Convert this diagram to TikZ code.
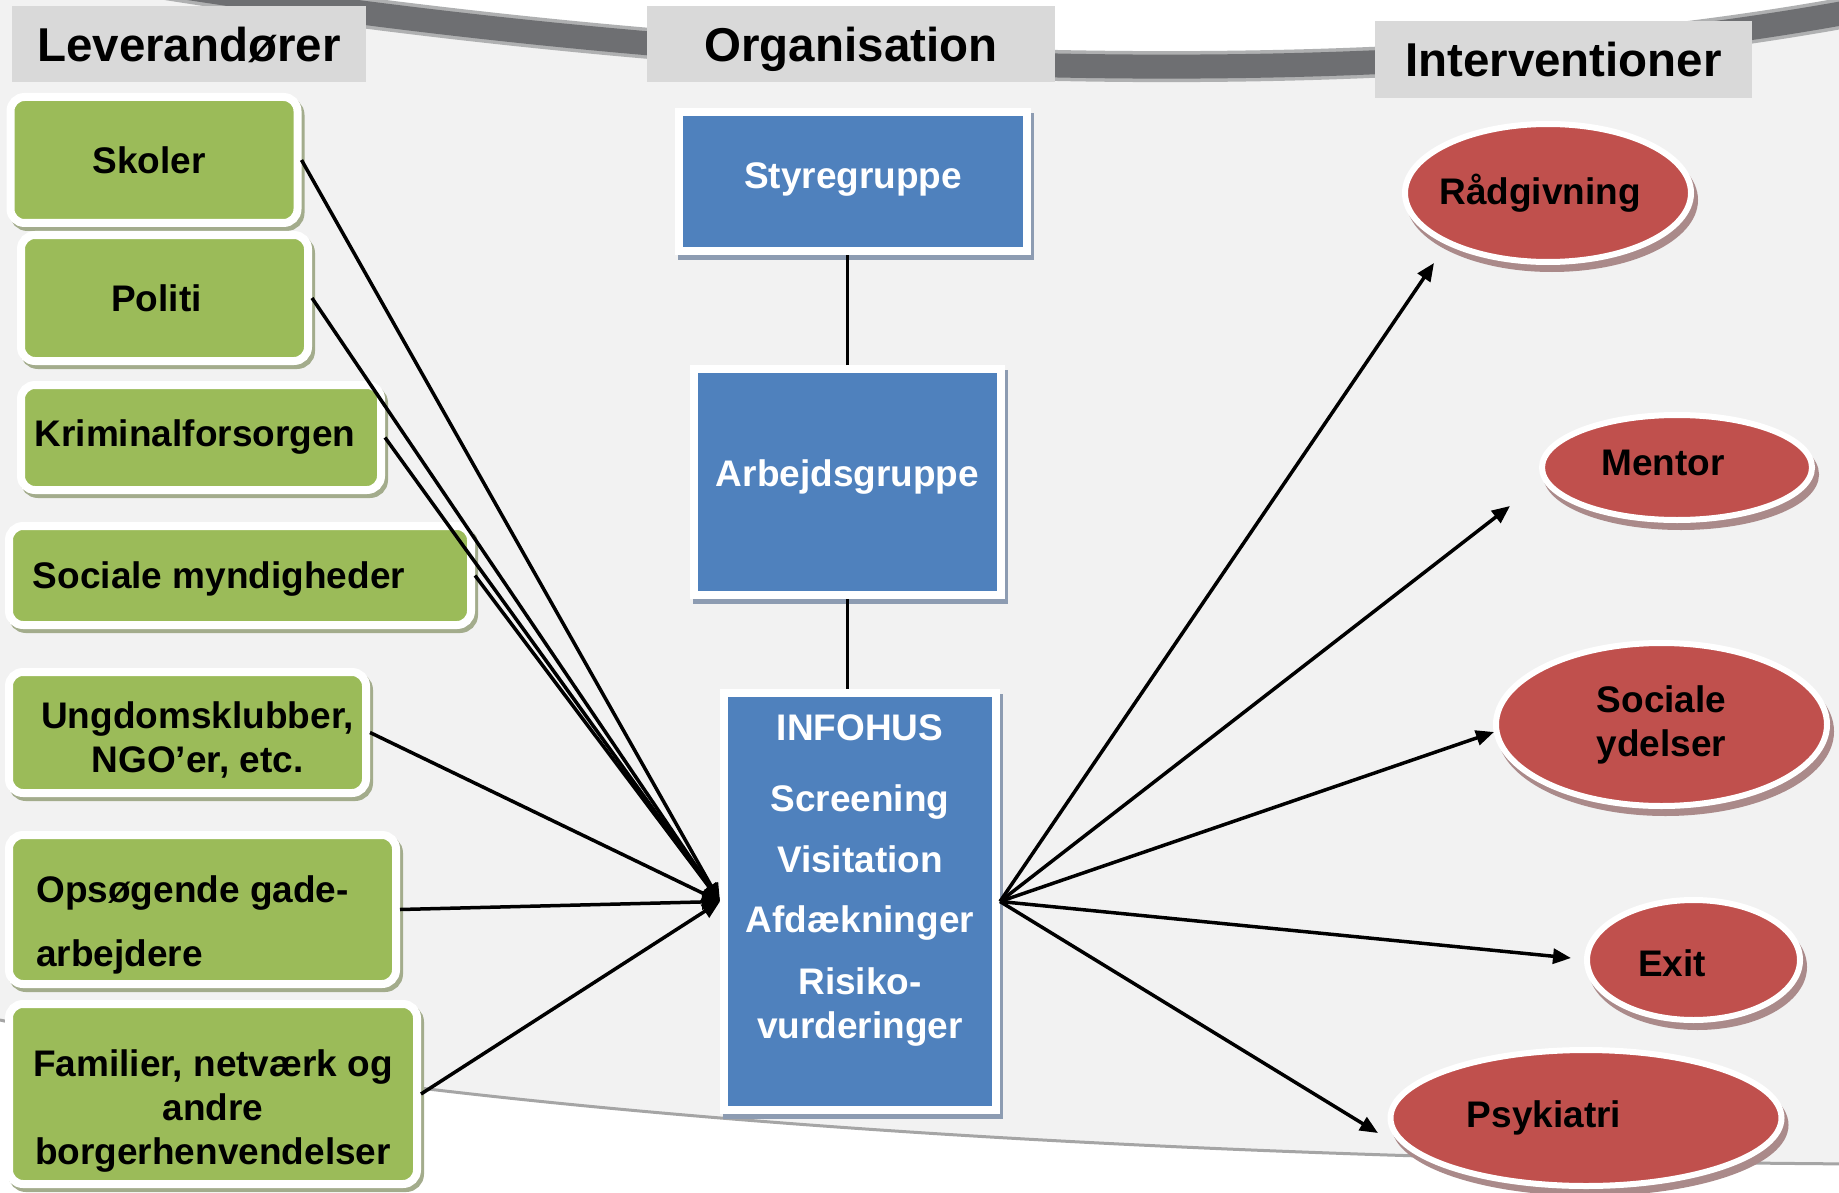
\documentclass[tikz,border=0pt]{standalone}
\usepackage{fontspec}
\setmainfont{Liberation Sans}
\usetikzlibrary{shapes.geometric,shadows,arrows.meta}

\definecolor{bggray}{RGB}{242,242,242}
\definecolor{bandgray}{RGB}{110,111,114}
\definecolor{edgegray}{RGB}{165,165,165}
\definecolor{headgray}{RGB}{217,217,217}
\definecolor{leafgreen}{RGB}{155,187,89}
\definecolor{greenshade}{RGB}{163,172,140}
\definecolor{orgblue}{RGB}{79,129,189}
\definecolor{blueshade}{RGB}{141,156,178}
\definecolor{intred}{RGB}{192,80,77}
\definecolor{redshade}{RGB}{170,138,138}

\tikzset{
    headbox/.style={fill=headgray, inner sep=0pt, text height=35pt, text depth=0pt,
        font=\fontsize{47.5}{56}\selectfont\bfseries},
    supplierbox/.style={fill=leafgreen, draw=white, line width=8pt, rounded corners=14pt,
        inner sep=0pt, align=center, font=\fontsize{37}{44}\selectfont\bfseries,
        drop shadow={shadow xshift=3pt, shadow yshift=-4pt, fill=greenshade, draw=greenshade, line width=8pt, opacity=1}},
    orgbox/.style={fill=orgblue, draw=white, line width=8pt, inner sep=0pt, text=white,
        align=center, font=\fontsize{37}{44}\selectfont\bfseries,
        drop shadow={shadow xshift=3pt, shadow yshift=-5pt, fill=blueshade, draw=blueshade, line width=8pt, opacity=1}},
    orgtext/.style={inner sep=0pt, text=white, align=center, font=\fontsize{37}{44}\selectfont\bfseries},
    effortnode/.style={ellipse, fill=intred, draw=white, line width=6pt, inner sep=0pt,
        align=center, font=\fontsize{37}{44}\selectfont\bfseries,
        drop shadow={shadow xshift=4pt, shadow yshift=-7pt, fill=redshade, draw=redshade, line width=6pt, opacity=1}},
    link/.style={line width=3.5pt},
    feed/.style={line width=3.5pt, -{Triangle[length=18pt,width=15pt]}}
}

\begin{document}
\begin{tikzpicture}[x=1pt, y=-1pt]
    %page and backdrop
    \useasboundingbox (0,0) rectangle (1839,1193);
    \clip (0,0) rectangle (1839,1193);
    \fill[white] (0,0) rectangle (1839,1193);
    \fill[bggray] (-20,-40) -- (150,-18) .. controls (700,70) and (1350,105) .. (1860,10)
        -- (1860,1165) -- (1839,1163) .. controls (1200,1160) and (450,1120) .. (0,1020) -- (-20,1020) -- cycle;
    \draw[bandgray!55, line width=31pt] (150,-18) .. controls (700,70) and (1350,105) .. (1860,10);
    \draw[bandgray, line width=24pt] (150,-18) .. controls (700,70) and (1350,105) .. (1860,10);
    \draw[edgegray, line width=3pt] (0,1020) .. controls (450,1120) and (1200,1160) .. (1860,1164);

    %headings
    \node[headbox, minimum width=354, minimum height=76] (lev) at (189,44) {Leverandører};
    \node[headbox, minimum width=408, minimum height=76] (org) at (851,44) {Organisation};
    \node[headbox, minimum width=377, minimum height=77] (int) at (1563.5,59.5) {Interventioner};

    %suppliers
    \node[supplierbox, minimum width=287, minimum height=126] (skoler) at (154,160) {Skoler\hspace*{10pt}};
    \node[supplierbox, minimum width=287, minimum height=126] (politi) at (164.5,298) {Politi\hspace*{16pt}};
    \node[supplierbox, minimum width=360, minimum height=105] (krim) at (201,437.5) {Kriminalforsorgen\hspace*{12pt}};
    \node[supplierbox, minimum width=462, minimum height=99, text depth=0pt] (socmyn) at (240,575.5) {Sociale myndigheder\hspace*{42pt}};
    \node[supplierbox, minimum width=357, minimum height=121] (ungdom) at (187.5,732.5)
        {\rule{0pt}{42.5pt}\hspace*{20pt}Ungdomsklubber,\\\hspace*{20pt}NGO’er, etc.};
    \node[supplierbox, minimum width=387, minimum height=149, align=left] (opsog) at (202.5,909.5)
        {\rule{0pt}{58.5pt}Opsøgende gade-\hspace*{20pt}\\[20pt]arbejdere};
    \node[supplierbox, minimum width=408, minimum height=180] (famil) at (213,1094)
        {\rule{0pt}{60pt}Familier, netværk og\\andre\\borgerhenvendelser};

    %organisation
    \node[orgbox, minimum width=348, minimum height=139, text depth=12pt] (styre) at (853,181.5) {Styregruppe};
    \node[orgbox, minimum width=307, minimum height=226, text depth=18pt] (arbejd) at (847.5,482) {Arbejdsgruppe};
    \node[orgbox, minimum width=272, minimum height=417] (infohus) at (860,901.5) {};
    \node[orgtext, anchor=north] (infotext) at ([yshift=-25pt]infohus.north)
        {INFOHUS\\[27pt]Screening\\[17pt]Visitation\\[16pt]Afdækninger\\[18pt]Risiko-\\vurderinger};

    %interventions
    \node[effortnode, minimum width=286, minimum height=138] (rad) at (1548,193) {\hspace*{-16pt}Rådgivning};
    \node[effortnode, minimum width=270, minimum height=105, text depth=10pt] (mentor) at (1677,467.5) {Mentor\hspace*{28pt}};
    \node[effortnode, minimum width=331, minimum height=163] (socyd) at (1661.5,724.5) {Sociale\\ydelser};
    \node[effortnode, minimum width=213, minimum height=120, text height=32.5pt, text depth=0pt] (exit) at (1693.5,960) {Exit\hspace*{43pt}};
    \node[effortnode, minimum width=391, minimum height=136] (psyk) at (1586,1118) {Psykiatri\hspace*{84pt}};

    \coordinate (radtip) at (1434,263);
    \coordinate (mentortip) at (1510,506);
    \coordinate (socydtip) at (1494,732);
    \coordinate (exittip) at (1571,958);
    \coordinate (psyktip) at (1378,1133);

    %connectors
    \draw[link] (arbejd.north) -- (arbejd.north |- styre.south);
    \draw[link] (arbejd.south) -- (arbejd.south |- infohus.north);

    \draw[feed] (skoler.east) -- (infohus.west);
    \draw[feed] (politi.east) -- (infohus.west);
    \draw[feed] (krim.east) -- (infohus.west);
    \draw[feed] (socmyn.east) -- (infohus.west);
    \draw[feed] (ungdom.east) -- (infohus.west);
    \draw[feed] (opsog.east) -- (infohus.west);
    \draw[feed] (famil.east) -- (infohus.west);

    \draw[feed] (infohus.east) -- (radtip);
    \draw[feed] (infohus.east) -- (mentortip);
    \draw[feed] (infohus.east) -- (socydtip);
    \draw[feed] (infohus.east) -- (exittip);
    \draw[feed] (infohus.east) -- (psyktip);

\end{tikzpicture}
\end{document}
